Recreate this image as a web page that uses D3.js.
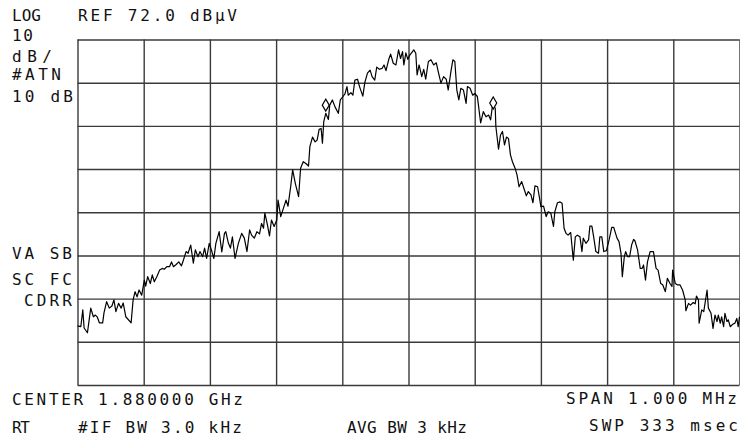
<!DOCTYPE html>
<html>
<head>
<meta charset="utf-8">
<script src="https://cdn.jsdelivr.net/npm/d3@7"></script>
<style>
  body { margin: 0; background: #fff; }
  svg text { font-family: "DejaVu Sans Mono", monospace; font-size: 16px; fill: #111; }
</style>
</head>
<body>
<svg></svg>
<script>
const width = 740;
const height = 440;

// trace: [offset from centre in kHz, level in dBuV]
const trace = [
  [-500, 5.7], [-495, 5.5], [-492, 9.4], [-490, 5.2], [-485, 4.1], [-480, 9.8], [-476, 7.8], [-473, 8.2],
  [-470, 7.7], [-467, 6.4], [-462, 6.4], [-460, 8.7], [-456, 11.3], [-452, 9.8], [-448, 10.3], [-445, 11.7],
  [-442, 9.0], [-438, 10.9], [-434, 9.8], [-431, 11.0], [-427, 7.8], [-419, 6.4], [-416, 11.7], [-413, 13.6],
  [-410, 12.4], [-407, 14.0], [-403, 12.8], [-399, 16.3], [-397, 14.9], [-394, 17.1], [-390, 15.5], [-387, 17.5],
  [-384, 15.9], [-380, 17.1], [-376, 18.6], [-372, 19.0], [-369, 18.8], [-365, 19.4], [-361, 19.4], [-358, 20.5],
  [-355, 19.4], [-351, 19.9], [-347, 20.5], [-343, 19.6], [-340, 20.9], [-336, 22.9], [-333, 22.5], [-329, 24.4],
  [-325, 20.2], [-322, 23.3], [-318, 21.7], [-315, 22.9], [-311, 21.7], [-308, 23.7], [-305, 21.3], [-301, 24.8],
  [-297, 22.9], [-294, 21.3], [-291, 24.8], [-286, 27.5], [-282, 22.8], [-278, 27.1], [-276, 27.5], [-272, 24.8],
  [-269, 23.7], [-266, 26.3], [-262, 21.3], [-257, 24.8], [-252, 27.1], [-248, 26.0], [-244, 22.9], [-240, 27.9],
  [-237, 26.7], [-233, 26.0], [-229, 27.5], [-225, 27.0], [-222, 29.4], [-219, 28.3], [-217, 31.8], [-213, 29.0],
  [-210, 26.5], [-207, 30.2], [-203, 28.7], [-199, 30.2], [-197, 34.8], [-193, 31.0], [-189, 32.9], [-185, 34.8],
  [-182, 33.4], [-178, 37.9], [-175, 41.8], [-171, 38.7], [-166, 35.6], [-163, 42.2], [-159, 43.7], [-155, 43.3],
  [-151, 42.7], [-149, 47.2], [-145, 49.4], [-141, 48.3], [-138, 48.7], [-135, 51.2], [-132, 51.4], [-130, 48.0],
  [-128, 53.0], [-125, 54.9], [-121, 53.5], [-119, 56.8], [-115, 58.0], [-111, 56.4], [-106, 54.9], [-103, 58.0],
  [-99, 58.8], [-96, 59.4], [-93, 61.1], [-91, 59.1], [-87, 59.7], [-84, 59.1], [-81, 62.6], [-77, 62.8],
  [-74, 61.1], [-69, 58.9], [-66, 62.0], [-62, 64.2], [-58, 64.9], [-55, 63.4], [-51, 62.6], [-48, 65.6],
  [-44, 65.1], [-40, 65.3], [-37, 66.1], [-34, 64.8], [-30, 67.3], [-27, 68.6], [-23, 66.5], [-19, 66.1],
  [-15, 69.6], [-12, 67.6], [-9, 69.2], [-7, 66.1], [-4, 68.9], [-1, 67.4], [2, 68.4], [6, 69.2],
  [8, 69.6], [11, 68.8], [13, 63.8], [16, 66.1], [20, 63.4], [23, 65.1], [26, 62.8], [30, 66.9],
  [34, 67.3], [38, 66.1], [42, 66.6], [45, 64.5], [49, 61.9], [53, 63.4], [57, 62.8], [60, 60.3],
  [64, 64.5], [67, 67.3], [70, 66.9], [73, 60.3], [76, 58.0], [79, 60.7], [83, 60.3], [87, 57.2],
  [89, 61.1], [93, 60.7], [97, 59.1], [100, 59.5], [104, 58.8], [109, 52.7], [113, 55.3], [117, 54.1],
  [121, 54.5], [124, 53.4], [127, 56.8], [131, 56.1], [132, 51.8], [136, 46.6], [139, 49.9], [142, 50.7],
  [145, 47.6], [148, 49.4], [151, 49.1], [154, 45.3], [157, 43.7], [161, 42.2], [164, 40.6], [167, 37.9],
  [171, 39.1], [175, 37.2], [178, 35.8], [181, 36.8], [185, 36.0], [188, 34.2], [191, 38.1], [195, 37.9],
  [198, 35.2], [200, 33.3], [204, 33.4], [208, 31.0], [211, 32.1], [215, 31.8], [219, 28.7], [221, 32.1],
  [225, 34.2], [229, 34.4], [232, 34.1], [235, 28.3], [238, 27.1], [241, 26.7], [245, 27.3], [249, 20.9],
  [252, 26.3], [255, 26.7], [259, 26.3], [262, 22.9], [264, 26.0], [268, 24.8], [272, 25.6], [274, 28.8],
  [277, 28.8], [280, 26.0], [283, 22.9], [287, 22.5], [289, 26.3], [292, 26.3], [295, 22.9], [299, 23.1],
  [303, 25.6], [307, 28.5], [310, 28.5], [315, 26.0], [318, 25.2], [321, 22.5], [323, 17.1], [326, 21.7],
  [328, 22.9], [331, 21.7], [334, 21.7], [337, 24.4], [340, 25.7], [342, 25.4], [346, 23.3], [350, 19.0],
  [353, 19.0], [355, 19.8], [358, 16.3], [361, 20.5], [365, 22.9], [370, 22.9], [374, 19.0], [377, 18.6],
  [381, 15.5], [384, 15.2], [388, 13.6], [391, 16.7], [395, 15.5], [398, 14.8], [399, 18.6], [403, 15.5],
  [406, 15.2], [410, 15.2], [414, 14.0], [418, 11.7], [419, 9.2], [423, 10.9], [426, 10.5], [430, 11.1],
  [433, 10.8], [435, 12.6], [438, 11.7], [439, 6.3], [443, 9.4], [446, 9.0], [451, 14.0], [453, 9.8],
  [457, 8.6], [460, 5.1], [463, 8.2], [466, 6.7], [468, 8.2], [471, 6.3], [473, 7.8], [476, 5.5],
  [478, 8.6], [481, 6.7], [483, 7.1], [486, 5.5], [490, 6.1], [493, 6.3], [496, 7.4], [498, 5.5],
  [500, 7.8]
];

// delta markers [kHz, dBuV]
const markers = [[-125, 56.8], [128, 57.3]];

// screen annotations
const refLevel = 72;
const dbPerDiv = 10;
const spanKHz = 1000;
const headerTexts = ['LOG', 'REF 72.0 dB\u00b5V'];
const leftTexts = ['10', 'dB/', '#ATN', '10 dB'];
const flagTexts = ['VA SB', 'SC FC', 'CDRR'];
const footerTexts = ['CENTER 1.880000 GHz', 'SPAN 1.000 MHz', 'RT', '#IF BW 3.0 kHz', 'AVG BW 3 kHz', 'SWP 333 msec'];

const plotLeft = 77.5, plotRight = 739.5, plotTop = 39.5, plotBottom = 385;

const xScale = d3.scaleLinear()
    .domain([-spanKHz / 2, spanKHz / 2])
    .range([plotLeft, plotRight]);

const yScale = d3.scaleLinear()
    .domain([refLevel - 8 * dbPerDiv, refLevel])
    .range([plotBottom, plotTop]);

const svg = d3.select('svg')
    .attr('width', width)
    .attr('height', height);

const xAxis = d3.axisBottom(xScale)
    .tickValues(d3.range(-spanKHz / 2, spanKHz / 2 + 1, spanKHz / 10))
    .tickSize(-(plotBottom - plotTop))
    .tickFormat('');
const yAxis = d3.axisLeft(yScale)
    .tickValues(d3.range(refLevel - 80, refLevel + 1, dbPerDiv))
    .tickSize(-(plotRight - plotLeft))
    .tickFormat('');

const gx = svg.append('g')
    .attr('transform', 'translate(0,' + plotBottom + ')')
    .call(xAxis);
const gy = svg.append('g')
    .attr('transform', 'translate(' + plotLeft + ',0)')
    .call(yAxis);

[gx, gy].forEach(g => {
  g.select('.domain').remove();
  g.selectAll('.tick line')
      .attr('stroke', '#3a3a3a')
      .attr('stroke-width', 1.4);
});

svg.append('path')
    .datum(trace)
    .attr('fill', 'none')
    .attr('stroke', '#000')
    .attr('stroke-width', 1.2)
    .attr('stroke-linejoin', 'round')
    .attr('d', d3.line()
        .x(d => xScale(d[0]))
        .y(d => yScale(d[1])));

svg.selectAll('.marker')
    .data(markers)
    .enter()
    .append('path')
    .attr('class', 'marker')
    .attr('transform', d => 'translate(' + xScale(d[0]) + ',' + yScale(d[1]) + ')')
    .attr('d', 'M0,-6L3.5,0L0,6L-3.5,0Z')
    .attr('fill', '#fff')
    .attr('stroke', '#000')
    .attr('stroke-width', 1.2);

function label(txt, x, y, len, anchor) {
  svg.append('text')
      .attr('x', x)
      .attr('y', y)
      .attr('textLength', len)
      .attr('lengthAdjust', 'spacing')
      .style('text-anchor', anchor || 'start')
      .text(txt);
}

label(headerTexts[0], 12, 21, 29);
label(headerTexts[1], 78, 21, 159);

label(leftTexts[0], 12, 41, 21);
label(leftTexts[1], 12, 62, 40);
label(leftTexts[2], 12, 80, 49);
label(leftTexts[3], 12, 102, 61);

label(flagTexts[0], 12, 259, 60);
label(flagTexts[1], 12, 285, 60);
label(flagTexts[2], 24, 306, 48);

label(footerTexts[0], 12, 405, 231);
label(footerTexts[1], 566, 404, 171);
label(footerTexts[2], 12, 433, 18);
label(footerTexts[3], 78, 433, 164);
label(footerTexts[4], 347, 433, 120);
label(footerTexts[5], 589, 431, 149);
</script>
</body>
</html>
